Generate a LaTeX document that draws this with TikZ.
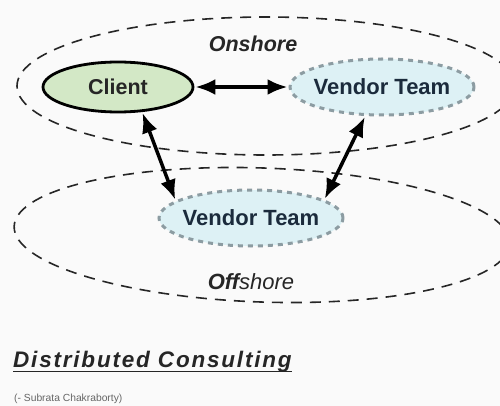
\documentclass[tikz,border=0pt]{standalone}
\usepackage{fontspec}
\setmainfont{Liberation Sans}
\newfontfamily\titlefont[LetterSpace=8]{Liberation Sans}
\usetikzlibrary{arrows.meta,shapes.geometric}
\definecolor{bgpaper}{HTML}{FAFAFA}
\definecolor{clientfill}{HTML}{D3E8C6}
\definecolor{vendorfill}{HTML}{DDF1F5}
\definecolor{vendorline}{HTML}{8C9CA2}
\definecolor{vendortext}{HTML}{1B2B3C}
\tikzset{
  region/.style={ellipse, draw=black!85, line width=1.6pt, dash pattern=on 11pt off 8pt},
  clientnode/.style={ellipse, draw=black, line width=2.8pt, fill=clientfill,
    minimum width=150pt, minimum height=50pt, inner sep=0pt,
    font=\bfseries\fontsize{21.5}{24}\selectfont, text=black!85},
  vendornode/.style={ellipse, draw=vendorline, line width=3pt, fill=vendorfill,
    dash pattern=on 5pt off 5pt, minimum width=184pt, minimum height=56pt,
    inner xsep=-4pt, inner ysep=0pt,
    font=\bfseries\fontsize{22}{25}\selectfont, text=vendortext},
  regionlabel/.style={font=\itshape\fontsize{22}{25}\selectfont, text=black!85},
  link/.style={line width=3.5pt, {Latex[length=20pt,width=16pt]}-{Latex[length=20pt,width=16pt]}, shorten <=1pt, shorten >=1pt}
}
\begin{document}
\begin{tikzpicture}[x=1pt,y=-1pt]
  % page
  \fill[bgpaper] (0,0) rectangle (500,406);
  \useasboundingbox (0,0) rectangle (500,406);

  % onshore and offshore regions
  \node[region, minimum width=498pt, minimum height=138pt] (onshore) at (266,86) {};
  \node[region, minimum width=496pt, minimum height=134pt, rotate=-2] (offshore) at (262,235) {};

  % parties
  \node[clientnode] (client) at (118,87) {Client};
  \node[vendornode] (vtop) at (382,87) {Vendor Team};
  \node[vendornode] (vbot) at (251,218) {Vendor Team};

  % region names
  \node[regionlabel, font=\bfseries\itshape\fontsize{21.5}{25}\selectfont] (onlabel) at (253,44) {Onshore};
  \node[regionlabel] (offlabel) at (251,282) {\textbf{Off}shore};

  % communication links
  \draw[link] (client.east) -- (vtop.west);
  \draw[link] (client.-46) -- (vbot.167);
  \draw[link] (vtop.-120) -- (vbot.14);

  % caption
  \node[anchor=base west, inner sep=0pt, font=\titlefont\bfseries\itshape\fontsize{22.5}{26}\selectfont, text=black!85] (title) at (13,367) {Distributed Consulting};
  \draw[line width=1.8pt, black!85] ([yshift=-4.5pt]title.base west) -- ([yshift=-4.5pt]title.base east);
  \node[anchor=west, inner sep=0pt, font=\fontsize{10.3}{12}\selectfont, text=black!60] (author) at (14,399) {(- Subrata Chakraborty)};
\end{tikzpicture}
\end{document}
